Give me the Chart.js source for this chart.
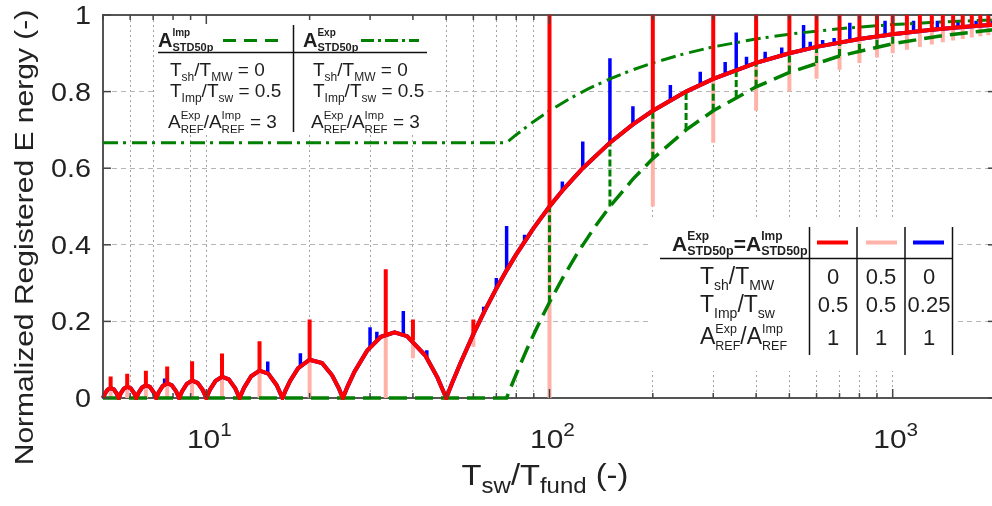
<!DOCTYPE html>
<html><head><meta charset="utf-8">
<script src="https://cdn.jsdelivr.net/npm/chart.js@4.4.1/dist/chart.umd.min.js"></script>
<style>html,body{margin:0;padding:0;overflow:hidden;background:#fff}#wrap{width:1000px;height:506px}</style>
</head><body><div id="wrap"><canvas id="c" width="1000" height="506"></canvas></div>
<script>
// ---------- data ----------
// common energy curve (shared by the three A_EXP = A_IMP cases)
const baseX = [5,5.061,5.155,5.263,5.376,5.482,5.556,5.631,5.747,5.882,6.024,6.158,6.25,6.345,6.494,6.667,6.849,7.022,7.143,7.267,7.463,7.692,7.937,8.17,8.333,8.503,8.772,9.091,9.434,9.766,10,10.246,10.638,11.111,11.628,12.136,12.5,12.887,13.514,14.286,15.152,16.026,16.667,17.007,17.544,18.519,20,21.739,23.256,24.272,25,25.773,27.027,29.412,32.258,35.36,38.462,43.478,47.17,50,52,55,60,65,70,75,80,90,100,110,125,150,175,200,250,300,400,500,600,800,1000,1300,1600,2000];
const baseY = [0,.0107,.0217,.0263,.0226,.0116,0,.0119,.0241,.0294,.0253,.013,0,.0134,.0273,.0333,.0288,.0148,0,.0154,.0313,.0385,.0333,.0173,0,.018,.0368,.0455,.0396,.0206,0,.0216,.0447,.0556,.0488,.0256,0,.0272,.0568,.0714,.0636,.0339,0,.0192,.0447,.0778,.1,.0913,.0593,.0274,0,.0291,.0689,.1235,.1597,.1716,.1615,.1109,.0532,0,.0385,.0909,.1667,.2308,.2857,.3333,.375,.4444,.5,.5455,.6,.6667,.7143,.75,.8,.8333,.875,.9,.9167,.9375,.95,.9615,.9688,.975];
// spikes of red (upward) and pink (downward)
const spikeX = [5.263,5.882,6.667,7.692,9.091,11.11,14.29,20,33.33,40,60,100,200,300,400,500,600,700,800,900,1000,1100,1200,1300,1400,1500,1600,1700,1800,1900,2000];
const redSpikeLo = [.0263,.0294,.0333,.0385,.0455,.0556,.0714,.1,.1667,.15,.1667,.5,.75,.8333,.875,.9,.9167,.9286,.9375,.9444,.95,.9545,.9583,.9615,.9643,.9667,.9688,.9706,.9722,.9737,.975];
const redSpikeHi = [.056,.063,.071,.082,.096,.116,.148,.205,.336,.205,.205,1,1,1,1,1,1,1,1,1,1,1,1,1,1,1,1,1,1,1,1];
const pinkSpikeLo = [0,0,0,0,0,0,0,0,0,.104,.134,0,.5,.6667,.75,.8,.8333,.8571,.875,.8889,.9,.9091,.9167,.9231,.9286,.9333,.9375,.9412,.9444,.9474,.95];
const pinkSpikeHi = [.0263,.0294,.0333,.0385,.0455,.0556,.0714,.1,.1667,.15,.1667,.5,.75,.8333,.875,.9,.9167,.9286,.9375,.9444,.95,.9545,.9583,.9615,.9643,.9667,.9688,.9706,.9722,.9737,.975];
// blue spikes (Timp/Tsw = 0.25)
const blueSpikeX = [7.56,15.1,18.8,30,31.4,37.5,43.9,64.3,70,75,84.6,109,125,150,175,225,275,325,350,375,425,475,550,575,625,675,750,950,1150,1350,1550,1750,1950];
const blueSpikeLo = [.036,.064,.084,.133,.152,.167,.106,.222,.286,.333,.409,.541,.6,.667,.714,.778,.818,.846,.857,.867,.882,.895,.909,.913,.92,.926,.933,.947,.957,.963,.968,.971,.974];
const blueSpikeHi = [.051,.095,.117,.185,.173,.227,.125,.238,.313,.449,.426,.565,.67,.887,.762,.817,.852,.877,.954,.891,.904,.915,.974,.93,.935,.94,.98,.985,.985,.985,.985,.985,.985];
// green: A_STD50p^Imp (dashed) and A_STD50p^Exp (dash-dot), A_REF ratio 3
const gDashX = [5,75,78,82,86,90,95,100,110,120,135,150,175,200,250,300,400,500,700,1000,1400,2000];
const gDashY = [0,0,.0385,.0854,.1279,.1667,.2105,.25,.3182,.375,.4444,.5,.5714,.625,.7,.75,.8125,.85,.8929,.925,.9464,.9625];
const gDotX = [5,75,80,90,100,115,130,150,175,200,250,300,400,500,700,1000,1400,2000];
const gDotY = [.6667,.6667,.6875,.7222,.75,.7826,.8077,.8333,.8571,.875,.9,.9167,.9375,.95,.9643,.975,.9821,.9875];
const gSpikeX = [100,150,200,250,300,350,400,500,600,700,800,900,1000];
const gSpikeLo = [.25,.5,.625,.7,.75,.786,.8125,.85,.875,.893,.906,.917,.925];
const gSpikeHi = [.5,.667,.75,.8,.833,.857,.875,.9,.917,.929,.938,.944,.95];
// axes
const xGridVals = [5,6,7,8,9,10,20,30,40,50,60,70,80,90,100,200,300,400,500,600,700,800,900,1000,2000];
const xMajor = [10,100,1000];
const xMajorExp = ['1','2','3'];
const yTickVals = [0,0.2,0.4,0.6,0.8,1];
const yTickLabels = ['0','0.2','0.4','0.6','0.8','1'];

// ---------- helpers ----------
const FONT = '"Liberation Sans", Arial, sans-serif';
const curve = (xs, ys) => xs.map((x, i) => ({x, y: ys[i]}));
const spikes = (xs, lo, hi) => { const d = []; xs.forEach((x, i) => { d.push({x, y: lo[i]}, {x, y: hi[i]}, {x, y: null}); }); return d; };
const RED = '#ff0000', PINK = '#ffb2a8', BLUE = '#0000ff', GREEN = '#008000';

function fnt(p){ return (p.b ? 'bold ' : '') + p.s + 'px ' + FONT; }
function rich(ctx, items, x, y, align, sx){
  sx = sx || 1;
  const meas = p => { ctx.font = fnt(p); return ctx.measureText(p.t).width; };
  const w = items.map(it => it.stack ? Math.max(...it.stack.map(meas)) : meas(it));
  const total = w.reduce((a, b) => a + b, 0) * sx;
  let cx = align === 'center' ? x - total / 2 : align === 'right' ? x - total : x;
  ctx.save(); ctx.textAlign = 'left'; ctx.textBaseline = 'alphabetic';
  items.forEach((it, i) => {
    (it.stack || [it]).forEach(p => {
      ctx.font = fnt(p); ctx.save(); ctx.translate(cx, y + (p.dy || 0)); ctx.scale(sx, 1); ctx.fillText(p.t, 0, 0); ctx.restore();
    });
    cx += w[i] * sx;
  });
  ctx.restore();
  return total;
}
function seg(ctx, x1, y1, x2, y2){ ctx.beginPath(); ctx.moveTo(x1, y1); ctx.lineTo(x2, y2); ctx.stroke(); }

const deco = {
  id: 'deco',
  beforeDatasetsDraw(chart){
    const {ctx, chartArea: a} = chart;
    ctx.save();
    ctx.strokeStyle = '#555'; ctx.lineWidth = 2;
    ctx.strokeRect(a.left, a.top, a.right - a.left, a.bottom - a.top);
    ctx.restore();
  },
  afterDatasetsDraw(chart){
    const ctx = chart.ctx;
    ctx.save();
    // ---- table 1 (green curves) ----
    ctx.fillStyle = '#fff'; ctx.fillRect(156, 17, 272, 118);
    ctx.fillStyle = '#1e1e1e';
    const hdr = (sup) => [{t:'A', s:20, b:true}, {stack:[{t:sup, s:10, b:true, dy:-11}, {t:'STD50p', s:11, b:true, dy:3.5}]}];
    rich(ctx, hdr('Imp'), 158, 47, 'left');
    rich(ctx, hdr('Exp'), 303, 47, 'left');
    ctx.strokeStyle = GREEN; ctx.lineWidth = 3;
    ctx.setLineDash([13, 8]); seg(ctx, 223, 40.5, 281, 40.5);
    ctx.setLineDash([13, 4, 3, 4]); seg(ctx, 361, 40.5, 419, 40.5);
    ctx.setLineDash([]);
    ctx.strokeStyle = '#111'; ctx.lineWidth = 1.5;
    seg(ctx, 158, 52.5, 427, 52.5); seg(ctx, 293.5, 25, 293.5, 132);
    const M = 19, S = 12, SS = 11.5;
    const r1 = v => [{t:'T', s:M}, {t:'sh', s:S, dy:4.5}, {t:'/', s:M}, {t:'T', s:M}, {t:'MW', s:S, dy:4.5}, {t:' = ' + v, s:M}];
    const r2 = v => [{t:'T', s:M}, {t:'Imp', s:S, dy:4.5}, {t:'/', s:M}, {t:'T', s:M}, {t:'sw', s:S, dy:4.5}, {t:' = ' + v, s:M}];
    const r3 = v => [{t:'A', s:M}, {stack:[{t:'Exp', s:SS, dy:-9}, {t:'REF', s:SS, dy:4.5}]}, {t:'/', s:M}, {t:'A', s:M}, {stack:[{t:'Imp', s:SS, dy:-9}, {t:'REF', s:SS, dy:4.5}]}, {t:' = ' + v, s:M}];
    [170, 313].forEach(x0 => {
      rich(ctx, r1('0'), x0, 76, 'left');
      rich(ctx, r2('0.5'), x0, 97, 'left');
      rich(ctx, r3('3'), x0 - 2, 128, 'left');
    });
    // ---- table 2 (red/pink/blue) ----
    ctx.fillStyle = '#fff'; ctx.fillRect(650, 217, 308, 154);
    ctx.fillStyle = '#1e1e1e';
    rich(ctx, [{t:'A', s:21, b:true}, {stack:[{t:'Exp', s:12, b:true, dy:-10.5}, {t:'STD50p', s:12.5, b:true, dy:4}]},
               {t:'=', s:21, b:true},
               {t:'A', s:21, b:true}, {stack:[{t:'Imp', s:12, b:true, dy:-10.5}, {t:'STD50p', s:12.5, b:true, dy:4}]}], 672, 250.5, 'left');
    ctx.lineWidth = 4;
    [[RED, 817], [PINK, 866], [BLUE, 913]].forEach(([c, x0]) => { ctx.strokeStyle = c; seg(ctx, x0, 242.5, x0 + 31, 242.5); });
    ctx.strokeStyle = '#111'; ctx.lineWidth = 1.5;
    [809.5, 857, 905, 952.5].forEach(x0 => seg(ctx, x0, 227, x0, 355));
    seg(ctx, 660, 258.5, 952.5, 258.5);
    const L = 23, LS = 14, LSS = 12.5;
    rich(ctx, [{t:'T', s:L}, {t:'sh', s:LS, dy:5.5}, {t:'/', s:L}, {t:'T', s:L}, {t:'MW', s:LS, dy:5.5}], 700, 284, 'left');
    rich(ctx, [{t:'T', s:L}, {t:'Imp', s:LS, dy:5.5}, {t:'/', s:L}, {t:'T', s:L}, {t:'sw', s:LS, dy:5.5}], 700, 312, 'left');
    rich(ctx, [{t:'A', s:L}, {stack:[{t:'Exp', s:LSS, dy:-11}, {t:'REF', s:LSS, dy:5.5}]}, {t:'/', s:L}, {t:'A', s:L}, {stack:[{t:'Imp', s:LSS, dy:-11}, {t:'REF', s:LSS, dy:5.5}]}], 700, 344, 'left');
    const cols = [833, 881, 929];
    [['0', '0.5', '0'], ['0.5', '0.5', '0.25'], ['1', '1', '1']].forEach((row, ri) => {
      row.forEach((v, ci) => rich(ctx, [{t:v, s:22}], cols[ci], [283.5, 312, 344.5][ri], 'center'));
    });
    ctx.restore();
  },
  afterDraw(chart){
    const {ctx, chartArea: a, scales: {x, y}} = chart;
    ctx.save();
    // inward tick marks
    ctx.strokeStyle = '#444'; ctx.lineWidth = 1.5;
    xGridVals.forEach(v => {
      const px = x.getPixelForValue(v); const len = xMajor.includes(v) ? 9 : 5;
      seg(ctx, px, a.bottom, px, a.bottom - len); seg(ctx, px, a.top, px, a.top + len);
    });
    yTickVals.forEach(v => {
      const py = y.getPixelForValue(v);
      seg(ctx, a.left, py, a.left + 8, py); seg(ctx, a.right, py, a.right - 8, py);
    });
    // tick labels
    ctx.fillStyle = '#222';
    yTickVals.forEach((v, i) => {
      const py = y.getPixelForValue(v);
      rich(ctx, [{t: yTickLabels[i], s: 25}], 91, py + 9, 'right', 1.15);
    });
    xMajor.forEach((v, i) => {
      const px = x.getPixelForValue(v);
      rich(ctx, [{t:'10', s:26}, {t: xMajorExp[i], s:18, dy:-12}], px + 3, 448, 'center', 1.15);
    });
    // axis titles
    rich(ctx, [{t:'T', s:30}, {t:'sw', s:22, dy:8}, {t:'/', s:30}, {t:'T', s:30}, {t:'fund', s:22, dy:8}, {t:' (-)', s:30}], 545, 485, 'center', 1.09);
    ctx.save(); ctx.translate(33, 237.5); ctx.rotate(-Math.PI / 2);
    rich(ctx, [{t:'Normalized Registered E nergy (-)', s:26}], 0, 0, 'center', 1.155);
    ctx.restore();
    ctx.restore();
  }
};

const ln = (label, data, color, width, order, dash, clip) => ({
  label, data, borderColor: color, backgroundColor: color, borderWidth: width, order,
  borderDash: dash || [], pointRadius: 0, tension: 0, fill: false, spanGaps: false, borderCapStyle: 'butt', borderJoinStyle: 'miter',
  clip: clip === undefined ? width / 2 : clip
});

new Chart(document.getElementById('c'), {
  type: 'line',
  data: { datasets: [
    ln('red', curve(baseX, baseY), RED, 4, 0),
    ln('red spikes', spikes(spikeX, redSpikeLo, redSpikeHi), RED, 4, 0),
    ln('Exp dash-dot', curve(gDotX, gDotY), GREEN, 3, 2, [15, 5, 3, 6]),
    ln('Imp dashed', curve(gDashX, gDashY), GREEN, 3.5, 1, [18, 8], 4),
    ln('green spikes', spikes(gSpikeX, gSpikeLo, gSpikeHi), GREEN, 3, 2, [7, 3]),
    ln('blue', curve(baseX, baseY), BLUE, 4, 3),
    ln('blue spikes', spikes(blueSpikeX, blueSpikeLo, blueSpikeHi), BLUE, 3.5, 3),
    ln('pink', curve(baseX, baseY), PINK, 4, 4),
    ln('pink spikes', spikes(spikeX, pinkSpikeLo, pinkSpikeHi), PINK, 4, 4)
  ]},
  options: {
    responsive: false, animation: false, devicePixelRatio: 1, events: [],
    layout: { padding: { top: 15, right: 4, left: 0, bottom: 0 } },
    plugins: { legend: { display: false }, tooltip: { enabled: false } },
    scales: {
      x: {
        type: 'logarithmic', min: 5, max: 2000,
        afterBuildTicks: s => { s.ticks = xGridVals.map(v => ({value: v})); },
        afterFit: s => { s.height = 108; },
        ticks: { display: false },
        grid: { drawTicks: false, lineWidth: 1,
          color: c => { const v = c.tick && c.tick.value; return (v === 5 || v === 8 || v === 2000) ? 'rgba(0,0,0,0)' : '#a3a3a3'; } },
        border: { display: false, dash: [2, 3] }
      },
      y: {
        min: 0, max: 1,
        afterBuildTicks: s => { s.ticks = yTickVals.map(v => ({value: v})); },
        afterFit: s => { s.width = 103; },
        ticks: { display: false },
        grid: { drawTicks: false, lineWidth: 1,
          color: c => { const v = c.tick && c.tick.value; return (v === 0 || v === 1) ? 'rgba(0,0,0,0)' : '#b5b5b5'; } },
        border: { display: false, dash: [5, 4] }
      }
    }
  },
  plugins: [deco]
});
</script></body></html>
